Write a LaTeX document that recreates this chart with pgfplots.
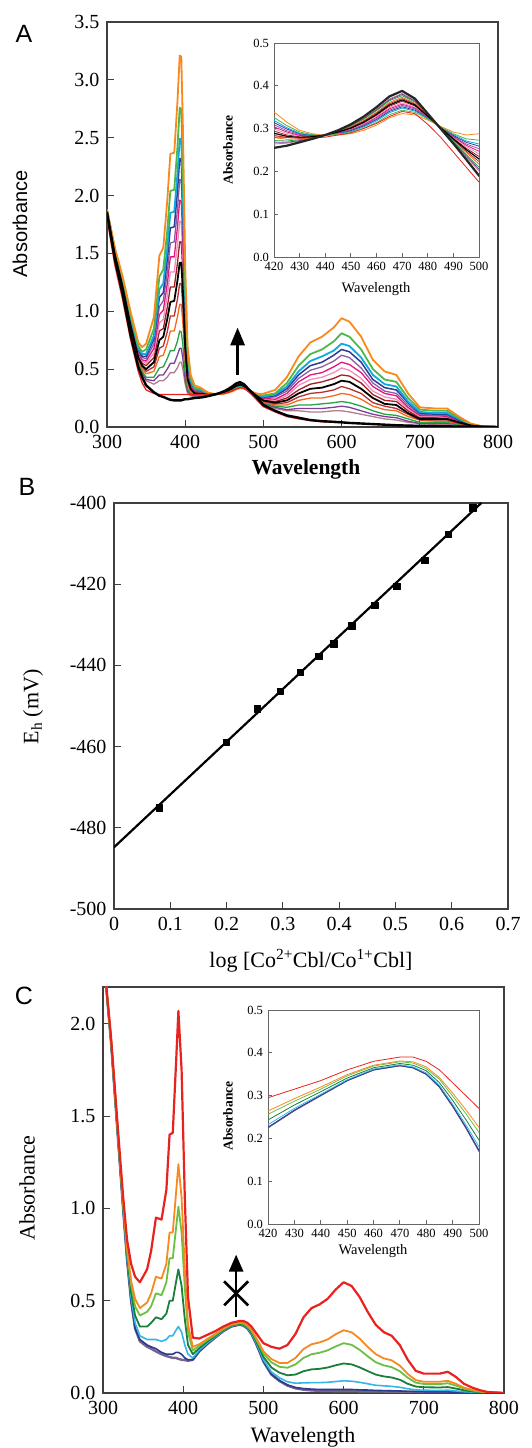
\documentclass[border=0pt]{standalone}
\usepackage{fontspec}
\setmainfont{Liberation Serif}
\setsansfont{Liberation Sans}
\usepackage{pgfplots}
\usepackage{pgfplotstable}
\pgfplotsset{compat=1.18}
\usetikzlibrary{arrows.meta}

\definecolor{cA1}{HTML}{F7891F}
\definecolor{cA2}{HTML}{4FB848}
\definecolor{cA3}{HTML}{10A8E0}
\definecolor{cA4}{HTML}{2E3A97}
\definecolor{cA5}{HTML}{8A5CA8}
\definecolor{cA6}{HTML}{E5157F}
\definecolor{cA7}{HTML}{F28DB8}
\definecolor{cA8}{HTML}{9E1F24}
\definecolor{cA9}{HTML}{000000}
\definecolor{cA10}{HTML}{B5302E}
\definecolor{cA11}{HTML}{F26B21}
\definecolor{cA12}{HTML}{25A244}
\definecolor{cA13}{HTML}{7B3F98}
\definecolor{cA14}{HTML}{B27C8C}
\definecolor{cRed}{HTML}{E8231F}
\definecolor{cOr}{HTML}{F7891F}
\definecolor{cLG}{HTML}{6CBF45}
\definecolor{cDG}{HTML}{1B7F3B}
\definecolor{cCy}{HTML}{35B6E6}
\definecolor{cDB}{HTML}{2B3990}
\definecolor{cPu}{HTML}{7D5BA6}
\definecolor{cGr}{HTML}{707070}

\pgfplotstableread{
wl B R c1 c2 c3 c4 c5 c6 c7 c8 c9 c10 c11 c12 c13 c14
300 1.85 1.80 1.88 1.88 1.87 1.87 1.87 1.87 1.87 1.86 1.86 1.86 1.86 1.86 1.85 1.85
310 1.45 1.40 1.55 1.54 1.53 1.52 1.51 1.51 1.50 1.50 1.49 1.48 1.48 1.47 1.47 1.46
320 1.15 1.10 1.30 1.28 1.26 1.26 1.25 1.24 1.23 1.22 1.21 1.20 1.19 1.18 1.17 1.17
330 0.80 0.76 1.00 0.97 0.95 0.94 0.93 0.92 0.90 0.89 0.88 0.87 0.86 0.84 0.83 0.82
340 0.52 0.48 0.73 0.70 0.68 0.67 0.65 0.64 0.63 0.62 0.60 0.59 0.58 0.56 0.55 0.54
345 0.43 0.38 0.69 0.65 0.63 0.61 0.60 0.58 0.57 0.55 0.53 0.52 0.50 0.48 0.47 0.46
350 0.36 0.32 0.72 0.67 0.63 0.61 0.59 0.57 0.55 0.53 0.50 0.48 0.46 0.43 0.41 0.40
360 0.30 0.29 0.95 0.85 0.79 0.76 0.72 0.68 0.64 0.60 0.56 0.52 0.48 0.43 0.40 0.37
367 0.27 0.28 1.48 1.30 1.19 1.12 1.04 0.97 0.90 0.83 0.75 0.68 0.61 0.51 0.45 0.40
372 0.26 0.28 1.55 1.36 1.24 1.16 1.09 1.01 0.93 0.85 0.78 0.70 0.62 0.52 0.45 0.40
377 0.245 0.28 1.95 1.69 1.54 1.44 1.33 1.23 1.13 1.03 0.93 0.82 0.72 0.59 0.50 0.43
381 0.235 0.28 2.36 2.04 1.85 1.72 1.59 1.47 1.34 1.21 1.08 0.96 0.83 0.66 0.55 0.47
386 0.23 0.28 2.37 2.05 1.86 1.73 1.60 1.47 1.34 1.21 1.09 0.96 0.83 0.66 0.55 0.47
390 0.23 0.28 2.80 2.41 2.18 2.03 1.87 1.72 1.57 1.41 1.26 1.10 0.95 0.74 0.62 0.51
393 0.23 0.28 3.21 2.76 2.49 2.32 2.14 1.96 1.78 1.60 1.42 1.24 1.06 0.83 0.68 0.56
395 0.23 0.28 3.20 2.75 2.49 2.31 2.13 1.95 1.77 1.60 1.42 1.24 1.06 0.82 0.68 0.56
397 0.235 0.28 2.61 2.25 2.04 1.89 1.75 1.61 1.47 1.33 1.18 1.04 0.90 0.71 0.59 0.50
400 0.24 0.28 1.40 1.23 1.12 1.05 0.98 0.91 0.84 0.77 0.70 0.63 0.57 0.47 0.41 0.37
403 0.24 0.28 0.70 0.63 0.59 0.56 0.53 0.51 0.48 0.45 0.42 0.40 0.37 0.33 0.31 0.29
407 0.245 0.28 0.45 0.42 0.40 0.39 0.38 0.36 0.35 0.34 0.33 0.32 0.30 0.29 0.28 0.27
412 0.25 0.28 0.36 0.34 0.33 0.33 0.32 0.31 0.31 0.30 0.29 0.29 0.28 0.27 0.27 0.26
420 0.255 0.28 0.339 0.326 0.319 0.314 0.309 0.304 0.299 0.294 0.289 0.284 0.279 0.272 0.268 0.264
425 0.26 0.28 0.315 0.307 0.302 0.299 0.295 0.292 0.289 0.285 0.282 0.279 0.275 0.271 0.268 0.266
430 0.268 0.278 0.296 0.292 0.289 0.288 0.286 0.284 0.283 0.281 0.279 0.278 0.276 0.274 0.272 0.271
435 0.276 0.278 0.288 0.286 0.285 0.284 0.284 0.283 0.282 0.282 0.281 0.280 0.279 0.278 0.278 0.277
440 0.285 0.28 0.284 0.284 0.284 0.284 0.284 0.284 0.284 0.285 0.285 0.285 0.285 0.285 0.285 0.285
445 0.296 0.285 0.285 0.287 0.288 0.288 0.289 0.290 0.290 0.291 0.292 0.292 0.293 0.294 0.294 0.295
450 0.31 0.29 0.288 0.291 0.293 0.295 0.296 0.297 0.299 0.300 0.301 0.303 0.304 0.306 0.307 0.308
455 0.328 0.30 0.296 0.301 0.304 0.306 0.308 0.309 0.311 0.313 0.315 0.317 0.319 0.322 0.323 0.324
460 0.35 0.312 0.308 0.314 0.318 0.321 0.323 0.326 0.328 0.331 0.333 0.336 0.338 0.342 0.344 0.345
465 0.375 0.328 0.325 0.332 0.337 0.340 0.343 0.346 0.349 0.352 0.355 0.358 0.361 0.365 0.367 0.369
470 0.388 0.34 0.335 0.343 0.348 0.351 0.354 0.357 0.360 0.364 0.367 0.370 0.373 0.377 0.380 0.382
475 0.37 0.335 0.332 0.338 0.341 0.343 0.346 0.348 0.350 0.353 0.355 0.357 0.359 0.362 0.364 0.366
480 0.335 0.31 0.320 0.322 0.324 0.324 0.325 0.326 0.327 0.328 0.329 0.330 0.331 0.332 0.333 0.333
485 0.30 0.28 0.305 0.304 0.304 0.304 0.303 0.303 0.303 0.302 0.302 0.302 0.301 0.301 0.301 0.301
490 0.265 0.245 0.292 0.288 0.286 0.284 0.282 0.281 0.279 0.277 0.276 0.274 0.273 0.270 0.269 0.268
495 0.228 0.21 0.285 0.276 0.271 0.268 0.264 0.261 0.258 0.254 0.251 0.247 0.244 0.239 0.237 0.234
500 0.19 0.175 0.288 0.273 0.264 0.259 0.253 0.247 0.241 0.235 0.229 0.223 0.217 0.210 0.205 0.201
515 0.14 0.13 0.32 0.29 0.28 0.27 0.26 0.24 0.23 0.22 0.21 0.20 0.19 0.18 0.17 0.16
530 0.10 0.09 0.43 0.38 0.35 0.33 0.31 0.29 0.27 0.25 0.23 0.21 0.19 0.17 0.15 0.14
545 0.08 0.07 0.61 0.53 0.48 0.45 0.42 0.39 0.36 0.32 0.29 0.26 0.23 0.19 0.16 0.14
560 0.06 0.055 0.73 0.63 0.57 0.53 0.49 0.45 0.41 0.37 0.33 0.29 0.25 0.19 0.16 0.13
575 0.05 0.045 0.78 0.67 0.61 0.56 0.52 0.47 0.43 0.39 0.34 0.30 0.25 0.20 0.16 0.13
590 0.045 0.04 0.86 0.74 0.66 0.62 0.57 0.52 0.47 0.42 0.37 0.32 0.27 0.21 0.17 0.14
600 0.04 0.04 0.94 0.81 0.72 0.67 0.62 0.56 0.51 0.45 0.40 0.35 0.29 0.22 0.18 0.14
610 0.035 0.035 0.91 0.78 0.70 0.65 0.60 0.54 0.49 0.44 0.39 0.33 0.28 0.21 0.17 0.13
625 0.03 0.03 0.78 0.67 0.60 0.56 0.51 0.47 0.42 0.38 0.33 0.29 0.24 0.18 0.14 0.11
640 0.025 0.025 0.58 0.50 0.45 0.41 0.38 0.35 0.31 0.28 0.25 0.21 0.18 0.14 0.11 0.09
655 0.02 0.02 0.48 0.41 0.37 0.34 0.31 0.29 0.26 0.23 0.20 0.18 0.15 0.11 0.09 0.07
670 0.015 0.015 0.45 0.39 0.35 0.32 0.29 0.27 0.24 0.22 0.19 0.16 0.14 0.10 0.08 0.06
685 0.012 0.012 0.29 0.25 0.22 0.21 0.19 0.17 0.16 0.14 0.12 0.11 0.09 0.07 0.05 0.04
700 0.01 0.01 0.17 0.15 0.13 0.12 0.11 0.10 0.09 0.08 0.07 0.06 0.06 0.04 0.03 0.03
720 0.007 0.007 0.16 0.14 0.12 0.11 0.10 0.10 0.09 0.08 0.07 0.06 0.05 0.04 0.03 0.02
735 0.005 0.005 0.16 0.14 0.12 0.11 0.10 0.09 0.08 0.08 0.07 0.06 0.05 0.04 0.03 0.02
750 0.004 0.004 0.09 0.08 0.07 0.06 0.06 0.05 0.05 0.04 0.04 0.03 0.03 0.02 0.02 0.01
765 0.003 0.003 0.030 0.026 0.024 0.022 0.020 0.019 0.017 0.015 0.014 0.012 0.011 0.008 0.007 0.006
780 0.002 0.002 0.005 0.005 0.004 0.004 0.004 0.004 0.004 0.003 0.003 0.003 0.003 0.003 0.002 0.002
800 0 0 0 0 0 0 0 0 0 0 0 0 0 0 0 0
}\tA

\pgfplotstableread{
wl B R O LG DG CY DB
300 2.45 2.45 2.45 2.45 2.45 2.45 2.45
305 2.15 2.16 2.16 2.15 2.15 2.15 2.15
310 1.90 1.93 1.92 1.91 1.91 1.90 1.90
315 1.60 1.64 1.62 1.62 1.61 1.60 1.60
320 1.30 1.35 1.33 1.32 1.31 1.30 1.30
325 1.00 1.07 1.04 1.03 1.02 1.01 1.00
330 0.72 0.83 0.78 0.77 0.75 0.73 0.72
335 0.50 0.70 0.61 0.59 0.55 0.52 0.50
340 0.35 0.63 0.51 0.47 0.42 0.38 0.35
346 0.28 0.60 0.46 0.42 0.36 0.31 0.29
355 0.25 0.67 0.49 0.44 0.36 0.29 0.26
360 0.24 0.77 0.54 0.47 0.38 0.29 0.25
366 0.225 0.95 0.63 0.54 0.41 0.29 0.24
373 0.21 0.94 0.62 0.53 0.40 0.28 0.22
379 0.20 1.10 0.70 0.60 0.43 0.29 0.21
383 0.195 1.40 0.87 0.73 0.50 0.31 0.21
387 0.19 1.41 0.87 0.73 0.50 0.31 0.21
391 0.19 1.78 1.08 0.89 0.60 0.34 0.22
394 0.185 2.07 1.24 1.01 0.67 0.36 0.22
398 0.18 1.75 1.06 0.87 0.58 0.33 0.21
402 0.178 1.06 0.67 0.57 0.40 0.26 0.19
406 0.175 0.52 0.37 0.33 0.26 0.21 0.18
412 0.18 0.30 0.25 0.23 0.21 0.19 0.18
420 0.225 0.295 0.264 0.256 0.243 0.232 0.226
430 0.265 0.315 0.293 0.287 0.278 0.270 0.266
440 0.30 0.335 0.320 0.315 0.309 0.303 0.301
450 0.335 0.36 0.349 0.346 0.341 0.337 0.335
460 0.36 0.38 0.371 0.369 0.365 0.362 0.360
470 0.37 0.39 0.381 0.379 0.375 0.372 0.370
475 0.365 0.39 0.379 0.376 0.371 0.367 0.365
480 0.35 0.38 0.367 0.363 0.358 0.353 0.350
485 0.32 0.36 0.342 0.338 0.330 0.324 0.321
490 0.275 0.33 0.306 0.299 0.289 0.280 0.276
495 0.225 0.30 0.267 0.258 0.244 0.232 0.226
500 0.17 0.27 0.226 0.214 0.196 0.180 0.172
510 0.10 0.25 0.184 0.166 0.138 0.114 0.102
520 0.065 0.24 0.163 0.142 0.110 0.082 0.068
530 0.04 0.26 0.163 0.137 0.096 0.061 0.044
540 0.025 0.32 0.190 0.155 0.100 0.053 0.030
550 0.018 0.41 0.238 0.190 0.118 0.055 0.024
560 0.014 0.46 0.264 0.210 0.128 0.056 0.021
570 0.012 0.48 0.274 0.218 0.131 0.056 0.019
580 0.011 0.51 0.290 0.231 0.138 0.058 0.019
590 0.01 0.56 0.318 0.252 0.150 0.062 0.019
600 0.01 0.60 0.340 0.270 0.160 0.066 0.019
610 0.01 0.58 0.329 0.261 0.155 0.064 0.019
620 0.009 0.52 0.295 0.234 0.139 0.058 0.017
630 0.009 0.44 0.250 0.199 0.119 0.050 0.016
640 0.008 0.37 0.211 0.167 0.100 0.042 0.014
650 0.008 0.33 0.188 0.150 0.090 0.039 0.013
660 0.007 0.31 0.177 0.140 0.084 0.036 0.012
670 0.007 0.26 0.149 0.118 0.072 0.031 0.011
680 0.006 0.18 0.103 0.083 0.050 0.023 0.009
690 0.006 0.12 0.070 0.056 0.035 0.017 0.008
700 0.005 0.105 0.061 0.049 0.031 0.015 0.007
720 0.004 0.105 0.061 0.048 0.030 0.014 0.006
730 0.004 0.115 0.066 0.053 0.032 0.015 0.006
740 0.003 0.087 0.050 0.040 0.024 0.011 0.004
750 0.003 0.05 0.029 0.024 0.015 0.007 0.004
760 0.002 0.03 0.018 0.014 0.009 0.005 0.002
770 0.001 0.015 0.009 0.007 0.005 0.002 0.001
780 0.001 0.005 0.003 0.003 0.002 0.001 0.001
800 0 0 0 0 0 0 0
}\tC

\pgfplotstableread{
x y
0.080 -475.0
0.199 -458.9
0.2545 -450.7
0.295 -446.4
0.331 -441.7
0.364 -437.7
0.390 -434.7
0.422 -430.2
0.463 -425.2
0.502 -420.5
0.552 -414.1
0.594 -407.7
0.637 -401.1
}\tB

\pgfplotsset{
  mainax/.style={scale only axis, anchor=south west,
    axis line style={black!75, line width=1.1pt},
    tick style={black!75, line width=1pt},
    tick align=inside, tick pos=left, major tick length=7pt,
    ticklabel style={font=\fontsize{20}{24}\selectfont},
    yticklabel style={xshift=-4pt},
    xticklabel style={yshift=-5pt},
    every axis plot/.append style={line join=round}},
  insetax/.style={scale only axis, anchor=south west,
    axis background/.style={fill=white},
    axis line style={black!60, line width=0.9pt},
    tick style={black!60, line width=0.8pt},
    tick align=inside, tick pos=left, major tick length=4pt,
    ticklabel style={font=\fontsize{12.5}{14}\selectfont},
    yticklabel style={xshift=-1.5pt},
    xticklabel style={yshift=-1.5pt},
    xmin=420, xmax=500, ymin=0, ymax=0.5,
    xtick={420,430,440,450,460,470,480,490,500},
    xticklabels={420,430,440,450,460,470,480,490,500},
    ytick={0,0.1,0.2,0.3,0.4,0.5},
    yticklabels={0.0,0.1,0.2,0.3,0.4,0.5},
    every axis plot/.append style={line join=round}},
}

\begin{document}
\begin{tikzpicture}
\useasboundingbox (0pt,0pt) rectangle (532pt,1448pt);

% ---------------- Panel A ----------------
\begin{axis}[mainax, at={(107pt,1021pt)}, width=391pt, height=405pt,
  xmin=300, xmax=800, ymin=0, ymax=3.5,
  xtick={300,400,500,600,700,800}, xticklabels={300,400,500,600,700,800},
  ytick={0,0.5,1,1.5,2,2.5,3,3.5},
  yticklabels={0.0,0.5,1.0,1.5,2.0,2.5,3.0,3.5}]
\addplot[cA14, line width=1.3pt] table[x=wl,y=c14]{\tA};
\addplot[cA13, line width=1.3pt] table[x=wl,y=c13]{\tA};
\addplot[cA12, line width=1.3pt] table[x=wl,y=c12]{\tA};
\addplot[cA11, line width=1.3pt] table[x=wl,y=c11]{\tA};
\addplot[cA10, line width=1.3pt] table[x=wl,y=c10]{\tA};
\addplot[cA8, line width=1.3pt] table[x=wl,y=c8]{\tA};
\addplot[cA7, line width=1.3pt] table[x=wl,y=c7]{\tA};
\addplot[cA6, line width=1.3pt] table[x=wl,y=c6]{\tA};
\addplot[cA5, line width=1.3pt] table[x=wl,y=c5]{\tA};
\addplot[cA4, line width=1.5pt] table[x=wl,y=c4]{\tA};
\addplot[cA3, line width=1.8pt] table[x=wl,y=c3]{\tA};
\addplot[cA2, line width=1.8pt] table[x=wl,y=c2]{\tA};
\addplot[cA1, line width=1.8pt] table[x=wl,y=c1]{\tA};
\addplot[cA9, line width=1.8pt] table[x=wl,y=c9]{\tA};
\addplot[cRed, line width=1.3pt] table[x=wl,y=R]{\tA};
\addplot[black, line width=2.4pt] table[x=wl,y=B]{\tA};
\draw[line width=3.2pt, -{Triangle[length=18pt,width=14pt]}] (axis cs:467,0.45) -- (axis cs:467,0.86);
\end{axis}

\begin{axis}[insetax, at={(274pt,1191pt)}, width=205pt, height=214pt]
\addplot[cA14, line width=0.8pt] table[x=wl,y=c14]{\tA};
\addplot[cA13, line width=0.8pt] table[x=wl,y=c13]{\tA};
\addplot[cA12, line width=0.8pt] table[x=wl,y=c12]{\tA};
\addplot[cA11, line width=0.8pt] table[x=wl,y=c11]{\tA};
\addplot[cA10, line width=0.8pt] table[x=wl,y=c10]{\tA};
\addplot[cA8, line width=0.8pt] table[x=wl,y=c8]{\tA};
\addplot[cA7, line width=0.8pt] table[x=wl,y=c7]{\tA};
\addplot[cA6, line width=0.8pt] table[x=wl,y=c6]{\tA};
\addplot[cA5, line width=0.8pt] table[x=wl,y=c5]{\tA};
\addplot[cA4, line width=0.8pt] table[x=wl,y=c4]{\tA};
\addplot[cA3, line width=0.8pt] table[x=wl,y=c3]{\tA};
\addplot[cA2, line width=0.8pt] table[x=wl,y=c2]{\tA};
\addplot[cA1, line width=0.8pt] table[x=wl,y=c1]{\tA};
\addplot[cA9, line width=1.2pt] table[x=wl,y=c9]{\tA};
\addplot[cRed, line width=0.8pt] table[x=wl,y=R]{\tA};
\addplot[black!85, line width=2.2pt] table[x=wl,y=B]{\tA};
\end{axis}

\node[font=\sffamily\fontsize{25}{28}\selectfont] at (24pt,1414pt) {A};
\node[rotate=90, font=\sffamily\fontsize{20}{24}\selectfont] at (20pt,1224pt) {Absorbance};
\node[font=\bfseries\fontsize{21.5}{24}\selectfont] at (306pt,979pt) {Wavelength};
\node[font=\fontsize{14.5}{16}\selectfont] at (376pt,1159pt) {Wavelength};
\node[rotate=90, font=\bfseries\fontsize{13.5}{15}\selectfont] at (228pt,1298pt) {Absorbance};

% ---------------- Panel B ----------------
\begin{axis}[mainax, at={(114pt,539pt)}, width=394pt, height=406pt,
  xmin=0, xmax=0.7, ymin=-500, ymax=-400,
  xtick={0,0.1,0.2,0.3,0.4,0.5,0.6,0.7},
  xticklabels={0,0.1,0.2,0.3,0.4,0.5,0.6,0.7},
  ytick={-500,-480,-460,-440,-420,-400},
  yticklabels={-500,-480,-460,-440,-420,-400}]
\addplot[black, line width=2.2pt] coordinates {(0,-484.8) (0.6526,-400)};
\addplot[only marks, mark=square*, mark size=3.3pt, black] table[x=x,y=y]{\tB};
\end{axis}
\node[font=\sffamily\fontsize{25}{28}\selectfont] at (27pt,961pt) {B};
\node[rotate=90, font=\fontsize{22}{26}\selectfont] at (33pt,741pt) {E\textsubscript{h} (mV)};
\node[font=\fontsize{22}{26}\selectfont] at (311pt,487pt) {log [Co\textsuperscript{2+}Cbl/Co\textsuperscript{1+}Cbl]};

% ---------------- Panel C ----------------
\begin{axis}[mainax, at={(103pt,55pt)}, width=401pt, height=406pt,
  xmin=300, xmax=800, ymin=0, ymax=2.2,
  xtick={300,400,500,600,700,800}, xticklabels={300,400,500,600,700,800},
  ytick={0,0.5,1,1.5,2},
  yticklabels={0.0,0.5,1.0,1.5,2.0}]
\addplot[cGr, line width=2.4pt] table[x=wl,y=B]{\tC};
\addplot[cPu, line width=1.3pt] table[x=wl,y=B]{\tC};
\addplot[cDB, line width=1.6pt] table[x=wl,y=DB]{\tC};
\addplot[cCy, line width=1.6pt] table[x=wl,y=CY]{\tC};
\addplot[cDG, line width=1.8pt] table[x=wl,y=DG]{\tC};
\addplot[cLG, line width=1.8pt] table[x=wl,y=LG]{\tC};
\addplot[cOr, line width=1.8pt] table[x=wl,y=O]{\tC};
\addplot[cRed, line width=2.2pt] table[x=wl,y=R]{\tC};
\draw[line width=2.6pt, -{Triangle[length=17pt,width=14pt]}] (axis cs:466,0.41) -- (axis cs:466,0.75);
\draw[line width=2.6pt] (axis cs:451,0.475) -- (axis cs:481,0.605);
\draw[line width=2.6pt] (axis cs:451,0.605) -- (axis cs:481,0.475);
\end{axis}

\begin{axis}[insetax, at={(268pt,224pt)}, width=211pt, height=214pt]
\addplot[cGr, line width=1.2pt] table[x=wl,y=B]{\tC};
\addplot[cPu, line width=0.9pt] table[x=wl,y=B]{\tC};
\addplot[cDB, line width=0.8pt] table[x=wl,y=DB]{\tC};
\addplot[cCy, line width=0.8pt] table[x=wl,y=CY]{\tC};
\addplot[cDG, line width=0.8pt] table[x=wl,y=DG]{\tC};
\addplot[cLG, line width=0.8pt] table[x=wl,y=LG]{\tC};
\addplot[cOr, line width=0.8pt] table[x=wl,y=O]{\tC};
\addplot[cRed, line width=0.8pt] table[x=wl,y=R]{\tC};
\end{axis}

\node[font=\sffamily\fontsize{25}{28}\selectfont] at (24pt,452pt) {C};
\node[rotate=90, font=\fontsize{22}{26}\selectfont] at (27pt,260pt) {Absorbance};
\node[font=\fontsize{22}{26}\selectfont] at (303pt,11pt) {Wavelength};
\node[font=\fontsize{14.5}{16}\selectfont] at (373pt,197pt) {Wavelength};
\node[rotate=90, font=\bfseries\fontsize{13.5}{15}\selectfont] at (228pt,332pt) {Absorbance};
\end{tikzpicture}
\end{document}
